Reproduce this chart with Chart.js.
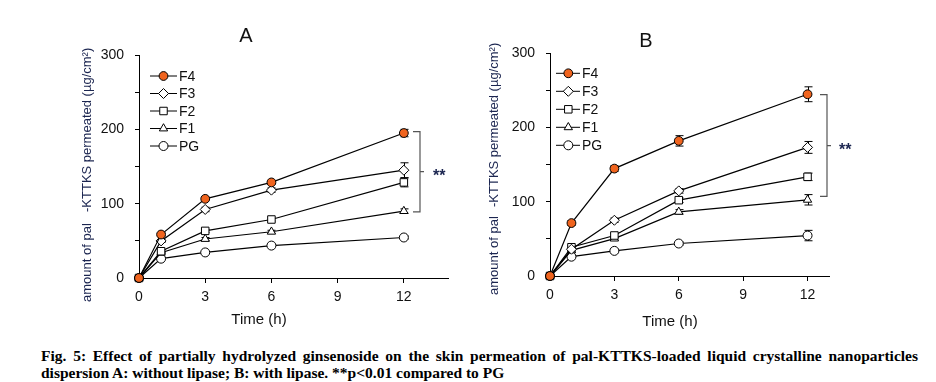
<!DOCTYPE html>
<html>
<head>
<meta charset="utf-8">
<script src="https://cdn.jsdelivr.net/npm/chart.js@4.4.1/dist/chart.umd.min.js"></script>
<style>
  html, body { margin: 0; padding: 0; background: #fff; }
  body { width: 936px; height: 382px; position: relative; overflow: hidden; }
  canvas { position: absolute; top: 0; }
  #chart-a { left: 0; }
  #chart-b { left: 468px; }
  #caption {
    position: absolute; left: 41px; top: 347px; width: 877px;
    font: bold 15.5px 'Liberation Serif', 'Times New Roman', serif;
    line-height: 17px; color: #000;
  }
  #caption .l1 { text-align: justify; text-align-last: justify; }
</style>
</head>
<body>
<canvas id="chart-a" width="468" height="340"></canvas>
<canvas id="chart-b" width="468" height="340"></canvas>
<div id="caption">
  <div class="l1">Fig. 5: Effect of partially hydrolyzed ginsenoside on the skin permeation of pal-KTTKS-loaded liquid crystalline nanoparticles</div>
  <div>dispersion A: without lipase; B: with lipase. **p&lt;0.01 compared to PG</div>
</div>
<script>
// Tiempos de muestreo (h) y ticks
const timeH = [0, 1, 3, 6, 12];
const xTicks = [0, 3, 6, 9, 12];
const yTicks = [0, 100, 200, 300];
const seriesNames = ['F4', 'F3', 'F2', 'F1', 'PG'];

// Panel A: sin lipasa
const f4A = [0, 58.5, 106.5, 128.6, 195];
const f3A = [0, 49.9, 92.2, 118.2, 145];
const f2A = [0, 36, 63.4, 78.7, 128.6];
const f1A = [0, 34, 52.5, 62.2, 90];
const pgA = [0, 26, 34.4, 43.6, 54.5];
const f4AErr = [0, 2, 2, 2, 5];
const f3AErr = [0, 2, 3, 3, 10];
const f2AErr = [0, 2, 2, 2, 6];
const f1AErr = [0, 1, 2, 2, 3];
const pgAErr = [0, 1, 1, 1, 2];
const bracketA = [89, 197];

// Panel B: con lipasa
const f4B = [0, 71.2, 144.5, 181.8, 244.5];
const f3B = [0, 36, 75, 114.5, 173];
const f2B = [0, 38.7, 54.5, 102, 133.4];
const f1B = [0, 34.5, 50.3, 86.3, 102.5];
const pgB = [0, 26, 33.8, 43.7, 54.4];
const f4BErr = [0, 3, 4, 7, 10];
const f3BErr = [0, 2, 3, 3, 8];
const f2BErr = [0, 2, 3, 3, 5];
const f1BErr = [0, 2, 2, 3, 7];
const pgBErr = [0, 1, 2, 2, 7];
const bracketB = [107, 244];

const FONT = "'Liberation Sans Narrow', 'Liberation Sans', Arial, sans-serif";
const TEXT = '#111';
const Y_TITLE = ['amount of pal', '-KTTKS permeated (\u00b5g/cm\u00b2)'];

const markerStyle = {
  F4: { shape: 'circle', r: 4.4, fill: '#f0641e' },
  F3: { shape: 'rectRot', r: 5, fill: '#fff' },
  F2: { shape: 'rect', r: 5.3, fill: '#fff' },
  F1: { shape: 'triangle', r: 4.8, fill: '#fff' },
  PG: { shape: 'circle', r: 4.5, fill: '#fff' }
};

/**
 * Dibuja un marcador con la misma geometría que usa Chart.js.
 */
function drawMarker(ctx, shape, x, y, r, fill) {
  ctx.beginPath();
  if (shape === 'circle') {
    ctx.arc(x, y, r, 0, Math.PI * 2);
  } else if (shape === 'rectRot') {
    ctx.moveTo(x, y - r); ctx.lineTo(x + r, y); ctx.lineTo(x, y + r); ctx.lineTo(x - r, y);
  } else if (shape === 'rect') {
    const s = r * Math.SQRT1_2;
    ctx.rect(x - s, y - s, 2 * s, 2 * s);
  } else if (shape === 'triangle') {
    ctx.moveTo(x, y - r);
    ctx.lineTo(x + r * 0.866, y + r * 0.5);
    ctx.lineTo(x - r * 0.866, y + r * 0.5);
  }
  ctx.closePath();
  ctx.fillStyle = fill;
  ctx.fill();
  ctx.lineWidth = 1;
  ctx.strokeStyle = '#000';
  ctx.stroke();
}

/**
 * Plugin con barras de error, leyenda interna, corchete de significancia y textos.
 */
function decorPlugin(cfg) {
  return {
    id: 'decor',
    beforeDatasetsDraw(chart) {
      const { ctx } = chart;
      const xs = chart.scales.x, ys = chart.scales.y;
      ctx.save();
      ctx.strokeStyle = '#000';
      ctx.lineWidth = 1;
      cfg.series.forEach((vals, i) => {
        vals.forEach((v, k) => {
          const e = cfg.errors[i][k];
          if (!e) return;
          const x = Math.round(xs.getPixelForValue(timeH[k])) + 0.5;
          const y1 = ys.getPixelForValue(v + e);
          const y2 = ys.getPixelForValue(v - e);
          ctx.beginPath();
          ctx.moveTo(x, y1); ctx.lineTo(x, y2);
          ctx.moveTo(x - 4, y1); ctx.lineTo(x + 4, y1);
          ctx.moveTo(x - 4, y2); ctx.lineTo(x + 4, y2);
          ctx.stroke();
        });
      });
      ctx.restore();
    },
    afterDraw(chart) {
      const { ctx } = chart;
      const ys = chart.scales.y;
      ctx.save();

      // Título del panel
      ctx.fillStyle = TEXT;
      ctx.font = '20px ' + FONT;
      ctx.textAlign = 'center';
      ctx.textBaseline = 'middle';
      ctx.fillText(cfg.title.text, cfg.title.x, cfg.title.y);

      // Título eje X
      ctx.font = '15px ' + FONT;
      ctx.fillText('Time (h)', cfg.xTitle.x, cfg.xTitle.y);

      // Título eje Y (rotado, en dos trozos)
      ctx.fillStyle = '#1b2550';
      ctx.font = '13px ' + FONT;
      ctx.textAlign = 'left';
      Y_TITLE.forEach((txt, i) => {
        ctx.save();
        ctx.translate(cfg.yTitle.x, cfg.yTitle.starts[i]);
        ctx.rotate(-Math.PI / 2);
        ctx.fillText(txt, 0, 0);
        ctx.restore();
      });

      // Leyenda
      const lg = cfg.legend;
      seriesNames.forEach((name, i) => {
        const y = lg.y0 + i * lg.dy;
        ctx.beginPath();
        ctx.strokeStyle = '#000';
        ctx.lineWidth = 1;
        ctx.moveTo(lg.x0, y); ctx.lineTo(lg.x1, y);
        ctx.stroke();
        const m = markerStyle[name];
        drawMarker(ctx, m.shape, lg.mx, y, m.r, m.fill);
        ctx.fillStyle = TEXT;
        ctx.font = '14px ' + FONT;
        ctx.textAlign = 'left';
        ctx.textBaseline = 'middle';
        ctx.fillText(name, lg.tx, y + 1);
      });

      // Corchete de significancia
      const yTop = ys.getPixelForValue(cfg.bracket[1]);
      const yBot = ys.getPixelForValue(cfg.bracket[0]);
      const yMid = (yTop + yBot) / 2;
      const bx = cfg.bracketX;
      ctx.beginPath();
      ctx.strokeStyle = '#555';
      ctx.lineWidth = 1.2;
      ctx.moveTo(bx - 7, yTop); ctx.lineTo(bx, yTop); ctx.lineTo(bx, yBot); ctx.lineTo(bx - 7, yBot);
      ctx.moveTo(bx, yMid); ctx.lineTo(bx + 4, yMid);
      ctx.stroke();
      ctx.fillStyle = '#1b2550';
      ctx.font = 'bold 16px ' + FONT;
      ctx.textBaseline = 'alphabetic';
      ctx.fillText('**', cfg.starsX, yMid + 9);

      ctx.restore();
    }
  };
}

/**
 * Crea un panel (A o B) con los ejes colocados donde están en la figura.
 */
function makePanel(canvasId, cfg) {
  const canvas = document.getElementById(canvasId);
  const W = canvas.width, H = canvas.height;
  const area = cfg.area;
  const tickFont = { family: FONT, size: 14 };

  return new Chart(canvas, {
    type: 'line',
    data: {
      datasets: seriesNames.map((name, i) => ({
        label: name,
        data: timeH.map((t, k) => ({ x: t, y: cfg.series[i][k] })),
        borderColor: '#000',
        borderWidth: 1.2,
        pointStyle: markerStyle[name].shape,
        pointRadius: markerStyle[name].r,
        pointHoverRadius: markerStyle[name].r,
        pointBackgroundColor: markerStyle[name].fill,
        pointBorderColor: '#000',
        pointBorderWidth: 1,
        tension: 0,
        clip: false,
        order: i
      }))
    },
    options: {
      responsive: false,
      animation: false,
      devicePixelRatio: 1,
      layout: { padding: { top: area.top, right: W - area.right, left: 0, bottom: 0 } },
      plugins: { legend: { display: false }, tooltip: { enabled: false } },
      scales: {
        x: {
          type: 'linear',
          min: 0,
          max: cfg.xMax,
          afterBuildTicks: s => { s.ticks = xTicks.map(v => ({ value: v })); },
          afterFit: s => { s.height = H - area.bottom; },
          grid: { drawOnChartArea: false, tickLength: 5, color: '#000', lineWidth: 1 },
          border: { color: '#000', width: 1 },
          ticks: { padding: 6, font: tickFont, color: TEXT, maxRotation: 0, autoSkip: false }
        },
        y: {
          min: 0,
          max: 300,
          afterFit: s => { s.width = area.left; },
          grid: { drawOnChartArea: false, tickLength: 4, color: '#000', lineWidth: 1 },
          border: { color: '#000', width: 1 },
          ticks: {
            stepSize: 50,
            padding: 11,
            font: tickFont,
            color: TEXT,
            callback: v => (yTicks.includes(v) ? String(v) : '')
          }
        }
      }
    },
    plugins: [decorPlugin(cfg)]
  });
}

makePanel('chart-a', {
  series: [f4A, f3A, f2A, f1A, pgA],
  errors: [f4AErr, f3AErr, f2AErr, f1AErr, pgAErr],
  bracket: bracketA,
  xMax: 14,
  area: { left: 139, top: 55, right: 448, bottom: 278 },
  title: { text: 'A', x: 246, y: 36 },
  xTitle: { x: 259, y: 320 },
  yTitle: { x: 87, starts: [302, 212] },
  legend: { x0: 150, x1: 177, mx: 163.5, tx: 179, y0: 76, dy: 17.5 },
  bracketX: 420,
  starsX: 433
});

makePanel('chart-b', {
  series: [f4B, f3B, f2B, f1B, pgB],
  errors: [f4BErr, f3BErr, f2BErr, f1BErr, pgBErr],
  bracket: bracketB,
  xMax: 13,
  area: { left: 82, top: 53, right: 361, bottom: 276 },
  title: { text: 'B', x: 178, y: 41 },
  xTitle: { x: 202, y: 322 },
  yTitle: { x: 26, starts: [295, 207] },
  legend: { x0: 88, x1: 112, mx: 100.3, tx: 114, y0: 73.3, dy: 18 },
  bracketX: 359,
  starsX: 371
});
</script>
</body>
</html>
